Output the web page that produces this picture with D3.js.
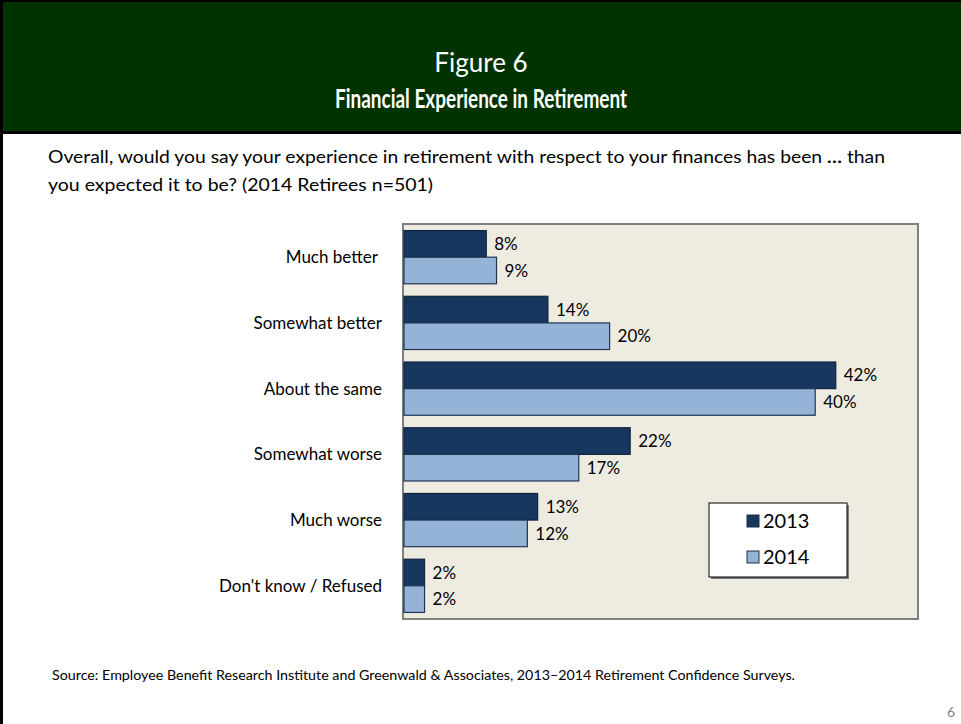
<!DOCTYPE html>
<html>
<head>
<meta charset="utf-8">
<script src="https://cdn.jsdelivr.net/npm/d3@7"></script>
<style>
  html, body { margin: 0; padding: 0; background: #fff; }
  svg { display: block; }
  text { font-family: Lato, "Open Sans", sans-serif; }
</style>
</head>
<body>
<svg id="chart" width="961" height="724"></svg>
<script>
// Survey responses, percent of retirees
const categories = ["Much better", "Somewhat better", "About the same", "Somewhat worse", "Much worse", "Don't know / Refused"];
const values2013 = [8, 14, 42, 22, 13, 2];
const values2014 = [9, 20, 40, 17, 12, 2];
const seriesNames = ["2013", "2014"];
const seriesColors = ["#17375e", "#95b3d7"];
const seriesStroke = ["#0f243e", "#1f3552"];

const svg = d3.select("#chart");
const W = 961, H = 724;

// Fit a text element to a target width by scaling glyph spacing
function fitWidth(sel, w) {
  sel.attr("textLength", w).attr("lengthAdjust", "spacingAndGlyphs");
}

// Header band
svg.append("rect").attr("x", 0).attr("y", 0).attr("width", W).attr("height", 132).attr("fill", "#013301");
svg.append("rect").attr("x", 0).attr("y", 131).attr("width", W).attr("height", 3).attr("fill", "#000");
svg.append("rect").attr("x", 0).attr("y", 0).attr("width", 3).attr("height", H).attr("fill", "#000");
svg.append("rect").attr("x", 0).attr("y", 0).attr("width", W).attr("height", 2).attr("fill", "#000");

svg.append("text").attr("x", 481).attr("y", 72).attr("text-anchor", "middle")
  .attr("fill", "#fff").attr("font-size", 26).text("Figure 6");
svg.append("text").attr("x", 481).attr("y", 108).attr("text-anchor", "middle")
  .attr("fill", "#fff").attr("font-size", 26).attr("font-weight", "bold")
  .text("Financial Experience in Retirement")
  .call(fitWidth, 292);

// Question text
const q1 = svg.append("text").attr("x", 48).attr("y", 163).attr("font-size", 17.5).attr("fill", "#000");
q1.append("tspan").text("Overall, would you say your experience in retirement with respect to your finances has been ");
q1.append("tspan").attr("font-weight", "bold").text("…");
q1.append("tspan").text(" than");
fitWidth(q1, 837);
svg.append("text").attr("x", 48).attr("y", 191).attr("font-size", 17.5).attr("fill", "#000")
  .text("you expected it to be? (2014 Retirees n=501)")
  .call(fitWidth, 385);

// Plot area
const plot = { x0: 403, x1: 918, y0: 224, y1: 619 };
svg.append("rect").attr("x", plot.x0).attr("y", plot.y0)
  .attr("width", plot.x1 - plot.x0).attr("height", plot.y1 - plot.y0)
  .attr("fill", "#eeece1").attr("stroke", "#7f7f7f").attr("stroke-width", 2);

const x = d3.scaleLinear().domain([0, 50]).range([plot.x0 + 1, plot.x1]);
const y = d3.scaleBand().domain(categories).range([plot.y0, plot.y1])
  .paddingInner(0.19).paddingOuter(0.1);
const ySub = d3.scaleBand().domain(seriesNames).range([0, y.bandwidth()]);

const rows = categories.map((c, i) => ({ cat: c, vals: [values2013[i], values2014[i]] }));

const groups = svg.append("g").selectAll("g").data(rows).join("g")
  .attr("transform", d => `translate(0,${y(d.cat)})`);

groups.selectAll("rect").data(d => d.vals.map((v, k) => ({ v, k }))).join("rect")
  .attr("x", x(0))
  .attr("y", d => ySub(seriesNames[d.k]))
  .attr("width", d => x(d.v) - x(0))
  .attr("height", ySub.bandwidth())
  .attr("fill", d => seriesColors[d.k])
  .attr("stroke", d => seriesStroke[d.k])
  .attr("stroke-width", 1.2);

groups.selectAll("text.val").data(d => d.vals.map((v, k) => ({ v, k }))).join("text")
  .attr("class", "val")
  .attr("x", d => x(d.v) + 8)
  .attr("y", d => ySub(seriesNames[d.k]) + ySub.bandwidth() / 2)
  .attr("dy", "0.36em")
  .attr("font-size", 17).attr("fill", "#000")
  .text(d => d.v + "%");

// Category labels
svg.append("g").selectAll("text").data(categories).join("text")
  .attr("x", d => d === "Much better" ? 378 : 382)
  .attr("y", d => y(d) + y.bandwidth() / 2)
  .attr("dy", "0.36em")
  .attr("text-anchor", "end")
  .attr("font-size", 17).attr("fill", "#000")
  .text(d => d);

// Legend
const lg = { x: 709, y: 503, w: 138, h: 74 };
svg.append("rect").attr("x", lg.x + 2).attr("y", lg.y + 2).attr("width", lg.w).attr("height", lg.h).attr("fill", "#7f7f7f");
svg.append("rect").attr("x", lg.x).attr("y", lg.y).attr("width", lg.w).attr("height", lg.h)
  .attr("fill", "#fff").attr("stroke", "#000").attr("stroke-width", 1);
const li = svg.append("g").selectAll("g").data(seriesNames).join("g")
  .attr("transform", (d, i) => `translate(${lg.x + 38},${lg.y + 18 + i * 36})`);
li.append("rect").attr("x", 0).attr("y", -6).attr("width", 12).attr("height", 12)
  .attr("fill", (d, i) => seriesColors[i]).attr("stroke", "#1f2f45").attr("stroke-width", 1);
li.append("text").attr("x", 16).attr("y", 0).attr("dy", "0.36em")
  .attr("font-size", 20).attr("fill", "#000").text(d => d);

// Source note and page number
svg.append("text").attr("x", 52).attr("y", 680).attr("font-size", 12.5).attr("fill", "#000")
  .text("Source:  Employee Benefit Research Institute and Greenwald & Associates, 2013–2014 Retirement Confidence Surveys.")
  .call(fitWidth, 743);
svg.append("text").attr("x", 947).attr("y", 717).attr("font-size", 14).attr("fill", "#7f7f7f").text("6");
</script>
</body>
</html>
